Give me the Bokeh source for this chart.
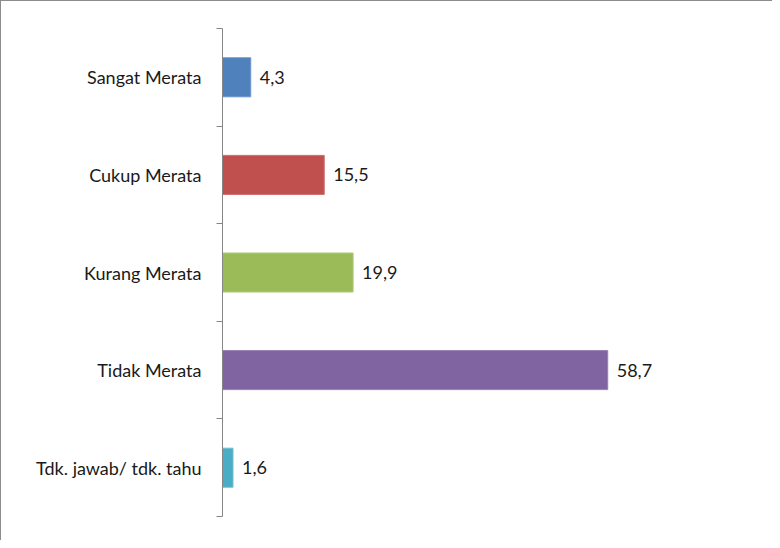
from bokeh.plotting import figure
from bokeh.models import ColumnDataSource, LabelSet, Range1d, FixedTicker
from bokeh.core.properties import value
from bokeh.embed import file_html
from bokeh.resources import INLINE

categories = ["Sangat Merata", "Cukup Merata", "Kurang Merata", "Tidak Merata", "Tdk. jawab/ tdk. tahu"]
values = [4.3, 15.5, 19.9, 58.7, 1.6]
colors = ["#4F81BD", "#C0504D", "#9BBB59", "#8064A2", "#4BACC6"]
edge_colors = ["#6A95CB", "#CC6E6B", "#AECA7A", "#9780B4", "#70BED3"]
value_labels = ["4,3", "15,5", "19,9", "58,7", "1,6"]

n = len(categories)
ypos = [n - i - 0.5 for i in range(n)]

src = ColumnDataSource(dict(y=ypos, v=values, c=colors, e=edge_colors, lab=value_labels, cat=categories))

FONT = "Lato"

p = figure(width=772, height=540, output_backend="svg", toolbar_location=None,
           x_range=Range1d(0, 80), y_range=Range1d(0, n),
           min_border_left=221, min_border_right=26, min_border_top=27, min_border_bottom=25)
p.styles = {"border-top": "1px solid #8C8C8C", "border-left": "1px solid #8C8C8C"}
p.outline_line_color = None
p.grid.visible = False
p.xaxis.visible = False
p.background_fill_color = "white"
p.border_fill_color = "white"

p.hbar(y="y", right="v", left=0, height=0.4, fill_color="c", line_color="e", line_width=1, source=src)

labels = LabelSet(x="v", y="y", text="lab", source=src, x_offset=9, y_offset=0,
                  text_baseline="middle", text_align="left",
                  text_font=value(FONT), text_font_size=value("18px"), text_color="#1A1A1A")
p.add_layout(labels)

yaxis = p.yaxis[0]
yaxis.ticker = FixedTicker(ticks=ypos, minor_ticks=list(range(n + 1)))
yaxis.major_label_overrides = {yv: c for yv, c in zip(ypos, categories)}
yaxis.major_tick_line_color = None
yaxis.minor_tick_line_color = "#868686"
yaxis.minor_tick_out = 6
yaxis.minor_tick_in = 0
yaxis.axis_line_color = "#868686"
yaxis.major_label_text_font = FONT
yaxis.major_label_text_font_size = "18px"
yaxis.major_label_text_font_style = "normal"
yaxis.major_label_text_color = "#1A1A1A"
yaxis.major_label_standoff = 15

open("out.html", "w").write(file_html(p, INLINE))
